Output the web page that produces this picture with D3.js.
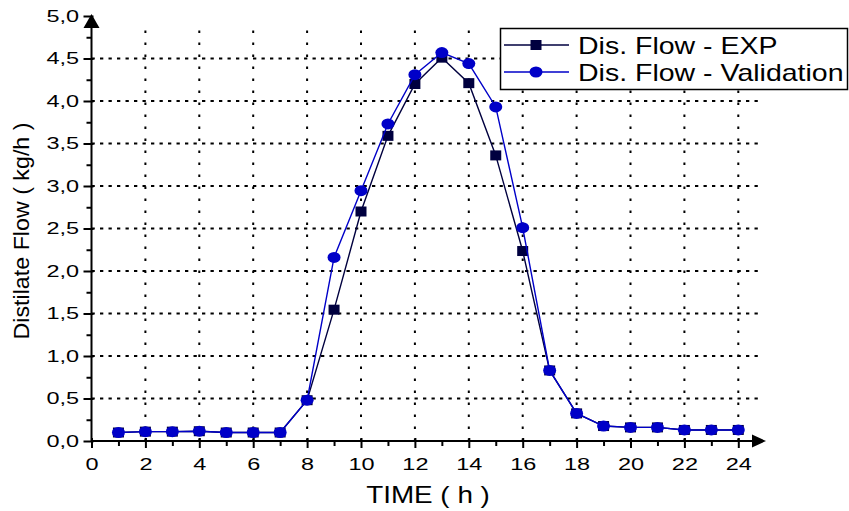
<!doctype html>
<html lang="en">
	<head>
		<meta charset="utf-8">
		<title>Distilate Flow</title>
		<script src="https://cdn.jsdelivr.net/npm/d3@7"></script>
		<style>
			body { margin: 0; background: #fff; }
			text { font-family: "Liberation Sans", Arial, sans-serif; fill: #000; }
		</style>
	</head>
	<body>
		<div id="chart"></div>
		<script>
			// data
			var hours = [1, 2, 3, 4, 5, 6, 7, 8, 9, 10, 11, 12, 13, 14, 15, 16, 17, 18, 19, 20, 21, 22, 23, 24];
			var expFlow = [0.10, 0.11, 0.11, 0.115, 0.10, 0.10, 0.10, 0.48, 1.545, 2.70, 3.59, 4.20, 4.51, 4.21, 3.36, 2.235, 0.83, 0.325, 0.176, 0.16, 0.16, 0.13, 0.13, 0.13];
			var valFlow = [0.10, 0.11, 0.11, 0.115, 0.10, 0.10, 0.10, 0.48, 2.16, 2.945, 3.73, 4.31, 4.57, 4.44, 3.93, 2.51, 0.83, 0.325, 0.176, 0.16, 0.16, 0.13, 0.13, 0.13];
			var xTicks = [0, 2, 4, 6, 8, 10, 12, 14, 16, 18, 20, 22, 24];
			var yTicks = [0, 0.5, 1, 1.5, 2, 2.5, 3, 3.5, 4, 4.5, 5];
			var seriesNames = ["Dis. Flow - EXP", "Dis. Flow - Validation"];

			var width = 849, height = 511;
			var expColor = "#00003f", valColor = "#0000c8";
			var sx = 1.38; // tick labels look horizontally stretched

			var svg = d3.select("#chart").append("svg")
				.attr("width", width)
				.attr("height", height);

			var x = d3.scaleLinear().domain([0, 24]).range([91.5, 738.3]);
			var y = d3.scaleLinear().domain([0, 5]).range([441, 16]);
			var x0 = x(0), y0 = y(0);

			// dotted grid
			var grid = svg.append("g");
			grid.selectAll(".vgrid")
				.data(xTicks.filter(function(d) { return d > 0; }))
				.enter().append("line")
				.attr("x1", function(d) { return x(d); })
				.attr("x2", function(d) { return x(d); })
				.attr("y1", y0)
				.attr("y2", y(4.9))
				.attr("stroke", "#000")
				.attr("stroke-width", 2)
				.attr("stroke-dasharray", "2.5,9.5");
			grid.selectAll(".hgrid")
				.data(yTicks.filter(function(d) { return d > 0 && d < 5; }))
				.enter().append("line")
				.attr("x1", x0)
				.attr("x2", x(24.9))
				.attr("y1", function(d) { return y(d); })
				.attr("y2", function(d) { return y(d); })
				.attr("stroke", "#000")
				.attr("stroke-width", 2)
				.attr("stroke-dasharray", "3.3,5.2");

			// x axis
			var xAxis = svg.append("g")
				.attr("transform", "translate(0," + y0 + ")")
				.call(d3.axisBottom(x).tickValues(xTicks).tickSize(7).tickFormat(d3.format("d")));
			xAxis.select(".domain").remove();
			xAxis.selectAll(".tick line").attr("y1", -3).attr("stroke-width", 2);
			xAxis.selectAll(".tick text")
				.attr("y", 29.5).attr("dy", null)
				.attr("transform", "scale(" + sx + ",1)")
				.style("font-size", "17px");
			var xMinor = svg.append("g")
				.attr("transform", "translate(0," + y0 + ")")
				.call(d3.axisBottom(x).tickValues(d3.range(1, 24, 2)).tickSize(5).tickFormat(""));
			xMinor.select(".domain").remove();
			xMinor.selectAll(".tick line").attr("stroke-width", 2);

			// y axis
			var yAxis = svg.append("g")
				.attr("transform", "translate(" + x0 + ",0)")
				.call(d3.axisLeft(y).tickValues(yTicks).tickSize(8).tickFormat(function(d) { return d3.format(".1f")(d).replace(".", ","); }));
			yAxis.select(".domain").remove();
			yAxis.selectAll(".tick line").attr("x1", 2).attr("stroke-width", 2);
			yAxis.selectAll(".tick text")
				.attr("x", -12.5 / sx)
				.attr("transform", "scale(" + sx + ",1)")
				.style("font-size", "17px");
			var yMinor = svg.append("g")
				.attr("transform", "translate(" + x0 + ",0)")
				.call(d3.axisLeft(y).tickValues(d3.range(0.25, 5, 0.5)).tickSize(5).tickFormat(""));
			yMinor.select(".domain").remove();
			yMinor.selectAll(".tick line").attr("stroke-width", 2);

			// axis lines with arrows
			svg.append("line")
				.attr("x1", x0).attr("x2", 753)
				.attr("y1", y0).attr("y2", y0)
				.attr("stroke", "#000").attr("stroke-width", 2);
			svg.append("path")
				.attr("d", "M752," + (y0 - 6.5) + "L766," + y0 + "L752," + (y0 + 6.5) + "Z")
				.attr("fill", "#000");
			svg.append("line")
				.attr("x1", x0).attr("x2", x0)
				.attr("y1", y0).attr("y2", 27)
				.attr("stroke", "#000").attr("stroke-width", 2);
			svg.append("path")
				.attr("d", "M" + (x0 - 8) + ",28L" + x0 + ",14L" + (x0 + 8) + ",28Z")
				.attr("fill", "#000");

			// axis titles
			svg.append("text")
				.attr("transform", "translate(428,503) scale(1.16,1)")
				.attr("text-anchor", "middle")
				.style("font-size", "24px")
				.text("TIME ( h )");
			svg.append("text")
				.attr("transform", "translate(29,231) rotate(-90)")
				.attr("text-anchor", "middle")
				.attr("textLength", 217)
				.attr("lengthAdjust", "spacingAndGlyphs")
				.style("font-size", "22px")
				.text("Distilate Flow ( kg/h )");

			// series
			var line = d3.line()
				.x(function(d, i) { return x(hours[i]); })
				.y(function(d) { return y(d); });

			svg.append("path")
				.datum(expFlow)
				.attr("d", line)
				.attr("fill", "none")
				.attr("stroke", expColor)
				.attr("stroke-width", 1.4);
			svg.selectAll(".sq")
				.data(expFlow)
				.enter().append("rect")
				.attr("class", "sq")
				.attr("x", function(d, i) { return x(hours[i]) - 5.5; })
				.attr("y", function(d) { return y(d) - 5; })
				.attr("width", 11)
				.attr("height", 10)
				.attr("fill", expColor);

			svg.append("path")
				.datum(valFlow)
				.attr("d", line)
				.attr("fill", "none")
				.attr("stroke", valColor)
				.attr("stroke-width", 1.4);
			svg.selectAll(".dot")
				.data(valFlow)
				.enter().append("ellipse")
				.attr("class", "dot")
				.attr("cx", function(d, i) { return x(hours[i]); })
				.attr("cy", function(d) { return y(d); })
				.attr("rx", 6.5)
				.attr("ry", 5.5)
				.attr("fill", valColor);

			// legend
			var legend = svg.append("g");
			legend.append("rect")
				.attr("x", 500.5).attr("y", 28.5)
				.attr("width", 347).attr("height", 61)
				.attr("fill", "#fff")
				.attr("stroke", "#000")
				.attr("stroke-width", 1.5);
			var rows = [
				{ name: seriesNames[0], color: expColor, shape: "square", y: 45 },
				{ name: seriesNames[1], color: valColor, shape: "circle", y: 72 }
			];
			rows.forEach(function(r) {
				legend.append("line")
					.attr("x1", 504).attr("x2", 569)
					.attr("y1", r.y).attr("y2", r.y)
					.attr("stroke", r.color)
					.attr("stroke-width", 1.4);
				if (r.shape == "square") {
					legend.append("rect")
						.attr("x", 530.5).attr("y", r.y - 5)
						.attr("width", 11).attr("height", 10)
						.attr("fill", r.color);
				} else {
					legend.append("ellipse")
						.attr("cx", 536).attr("cy", r.y)
						.attr("rx", 6.5).attr("ry", 5.5)
						.attr("fill", r.color);
				}
				legend.append("text")
					.attr("transform", "translate(578," + (r.y + 8.5) + ") scale(1.24,1)")
					.style("font-size", "23px")
					.text(r.name);
			});
		</script>
	</body>
</html>
